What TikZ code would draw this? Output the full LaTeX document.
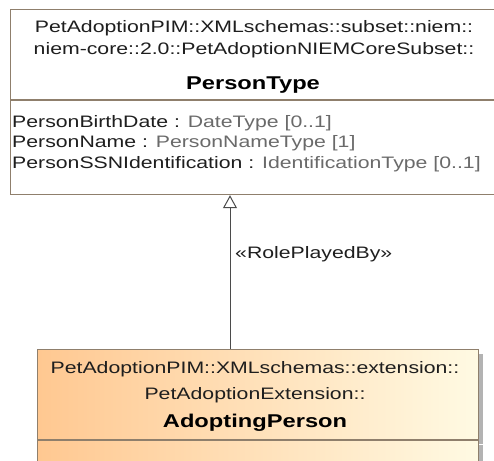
\documentclass[tikz,border=0pt]{standalone}
\usepackage{fontspec}
\setmainfont[FakeStretch=1.28]{Liberation Sans}
\usepackage{tikz}
\usetikzlibrary{arrows.meta,positioning,shadows}
\definecolor{umlborder}{HTML}{8F7F6C}
\definecolor{umlorange}{HTML}{FFC891}
\definecolor{umlcream} {HTML}{FFFAE3}
\definecolor{umltype}  {HTML}{6A6A6A}
\definecolor{umltext}  {HTML}{1E1E1E}
\newcommand{\attrline}[2]{\textcolor{umltext}{#1} : \textcolor{umltype}{#2}}

\begin{document}
\begin{tikzpicture}[
  x=1pt,y=-1pt,
  comp/.style={draw=umlborder,line width=1.1pt,fill=white,
               anchor=north west,inner sep=0pt},
  ext/.style={comp,left color=umlorange,right color=umlcream,
              drop shadow={shadow xshift=4pt,shadow yshift=-4pt,
                           fill=gray,opacity=.6}},
  pkg/.style={font=\fontsize{16.6}{20}\selectfont,text=umltext,
              anchor=base,inner sep=0pt},
  cname/.style={pkg,font=\fontsize{18.5}{20}\selectfont\bfseries,text=black},
  attr/.style={pkg,anchor=base west},
  realize/.style={-{Triangle[open,length=13pt,width=14pt]},
                  draw=umltext!80,line width=1pt}
]
\useasboundingbox (0,0) rectangle (494,460);
\clip (0,0) rectangle (494,460);
% PersonType (subset)
\node[comp,minimum width=488pt,minimum height=90pt] (ptHead) at (10,9) {};
\node[comp,minimum width=488pt,minimum height=94pt] (ptAttr) at (ptHead.south west) {};
\node[pkg]   (ptPkgA) at (254,33) {PetAdoptionPIM::XMLschemas::subset::niem::};
\node[pkg]   (ptPkgB) at (254,55) {niem-core::2.0::PetAdoptionNIEMCoreSubset::};
\node[cname] (ptName) at (253,89) {PersonType};
\node[attr]  (ptA1)   at (12,127) {\attrline{PersonBirthDate}{DateType [0..1]}};
\node[attr]  (ptA2)   at (12,147) {\attrline{PersonName}{PersonNameType [1]}};
\node[attr]  (ptA3)   at (12,168) {\attrline{PersonSSNIdentification}{IdentificationType [0..1]}};
% AdoptingPerson (extension)
\node[ext,minimum width=441pt,minimum height=90pt] (apHead) at (37,349) {};
\node[ext,minimum width=441pt,minimum height=40pt] (apAttr) at (apHead.south west) {};
\node[pkg]   (apPkgA) at (255,373) {PetAdoptionPIM::XMLschemas::extension::};
\node[pkg]   (apPkgB) at (255,399) {PetAdoptionExtension::};
\node[cname] (apName) at (255,427) {AdoptingPerson};
% RolePlayedBy
\coordinate (rp) at (230,0);
\draw[realize] (apHead.north -| rp) -- (ptAttr.south -| rp);
\node[pkg,anchor=base west] (rpLabel) at (235,258) {«RolePlayedBy»};
\end{tikzpicture}
\end{document}
